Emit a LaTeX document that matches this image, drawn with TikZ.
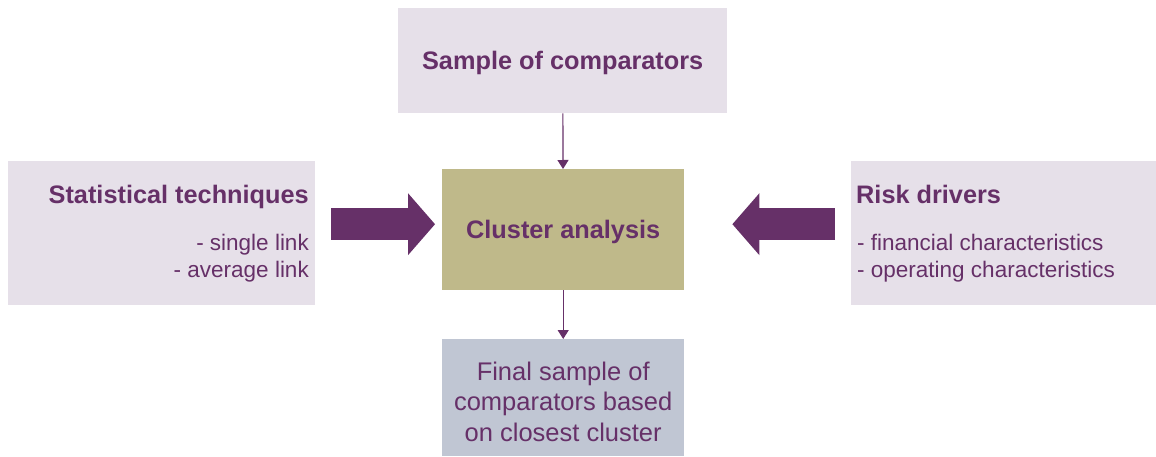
\documentclass[tikz,border=0pt]{standalone}
\usepackage{fontspec}
\setmainfont{Liberation Sans}
\usetikzlibrary{arrows.meta,calc}
\definecolor{cl_purple}{RGB}{102, 48, 104}
\definecolor{cl_lilac}{RGB}{230, 224, 233}
\definecolor{cl_olive}{RGB}{191, 185, 138}
\definecolor{cl_slate}{RGB}{192, 198, 211}
\tikzstyle{box}=[rectangle,fill=cl_lilac,draw=none,inner sep=0pt,anchor=north west]
\tikzstyle{head}=[text=cl_purple,inner sep=0pt,font=\fontsize{25.3}{30.5}\selectfont\bfseries]
\tikzstyle{items}=[text=cl_purple,inner sep=0pt,font=\fontsize{22.5}{27}\selectfont]
\tikzstyle{bigarrow}=[draw=cl_purple,line width=32pt,
  -{Triangle[length=27pt,width=62pt,line width=0pt]}]
\tikzstyle{smallarrow}=[draw=cl_purple,line width=1.2pt,
  -{Triangle[length=9pt,width=11pt]}]

\begin{document}
\begin{tikzpicture}[x=1pt,y=-1pt]
    \useasboundingbox (0,0) rectangle (1156,457);
    \node [style=box,minimum width=329pt,minimum height=105pt] (sample) at (398,8) {};
    \node [style=box,minimum width=307pt,minimum height=144pt] (stat) at (8,161) {};
    \node [style=box,minimum width=305pt,minimum height=144pt] (risk) at (851,161) {};
    \node [style=box,fill=cl_olive,minimum width=242pt,minimum height=121pt] (cluster) at (442,169) {};
    \node [style=box,fill=cl_slate,minimum width=242pt,minimum height=117pt] (final) at (442,339) {};
    \node [style=head] (samplet) at ($(sample.center)+(0,2)$) {Sample of comparators};
    \node [style=head] (clustert) at ($(cluster.center)+(0,2)$) {Cluster analysis};
    \node [style=head,anchor=base east] (statt) at (309,204) {Statistical techniques};
    \node [style=items,anchor=base east,align=right] (statl) at (309,277) {- single link\\- average link};
    \node [style=head,anchor=base west] (riskt) at (856,204) {Risk drivers};
    \node [style=items,anchor=base west,align=left] (riskl) at (857,277) {- financial characteristics\\- operating characteristics};
    \node [style=items,font=\fontsize{25.5}{30.5}\selectfont,align=center] (finalt) at ($(final.center)+(0,4)$) {Final sample of\\comparators based\\on closest cluster};
    \draw [style=bigarrow] ($(stat.east |- cluster.west)+(16,-5.5)$) to ($(cluster.west)+(-7,-5.5)$);
    \draw [style=bigarrow] ($(risk.west |- cluster.east)+(-16,-5.5)$) to ($(cluster.east)+(48,-5.5)$);
    \draw [style=smallarrow] (sample) to (cluster);
    \draw [style=smallarrow] (cluster) to (final);
  \end{tikzpicture}
\end{document}
